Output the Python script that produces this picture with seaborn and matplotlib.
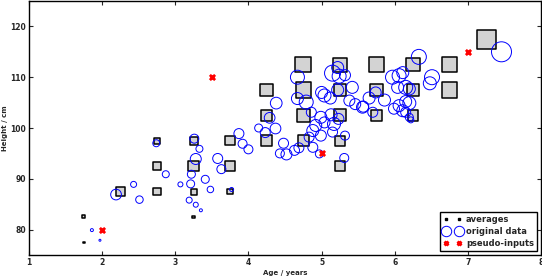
import numpy as np
import pandas as pd
import seaborn as sns
import matplotlib
matplotlib.use("Agg")
import matplotlib.pyplot as plt
from matplotlib.lines import Line2D

# bin averages (age, height, marker weight)
avg_age = [1.75, 1.75, 2.25, 2.75, 2.75, 2.75, 3.25, 3.25, 3.25, 3.25,
           3.75, 3.75, 3.75, 4.25, 4.25, 4.25, 4.75, 4.75, 4.75, 4.75,
           5.25, 5.25, 5.25, 5.25, 5.25, 5.75, 5.75, 5.75, 6.25, 6.25,
           6.25, 6.75, 6.75, 7.25]
avg_height = [82.5, 77.5, 87.5, 97.5, 92.5, 87.5, 97.5, 92.5, 87.5, 82.5,
              97.5, 92.5, 87.5, 107.5, 102.5, 97.5, 112.5, 107.5, 102.5, 97.5,
              112.5, 107.5, 102.5, 97.5, 92.5, 112.5, 107.5, 102.5, 112.5, 107.5,
              102.5, 112.5, 107.5, 117.5]
avg_weight = [3, 1.5, 8.5, 6, 7.3, 7.3, 8, 10.5, 6, 2.5,
              9.3, 10, 5.3, 12.7, 10.5, 10.7, 15.7, 15.3, 13.3, 11.3,
              14, 12.3, 12, 10.3, 10, 14.3, 12.7, 11.3, 13.3, 12.3,
              10.7, 15.3, 15.3, 19]

# original data (age, height, marker weight)
data_age = [1.86, 1.97, 2.19, 2.43, 2.51, 2.74, 2.87, 3.07, 3.21, 3.19,
            3.28, 3.35, 3.41, 3.48, 3.22, 3.28, 3.33, 3.26, 3.58, 3.63,
            3.77, 3.87, 3.92, 4.00, 4.14, 4.23, 4.37, 4.29, 4.38, 4.48,
            4.43, 4.52, 4.67, 4.67, 4.79, 5.00, 5.04, 5.12, 5.22, 5.22,
            5.15, 5.24, 5.32, 5.42, 5.38, 5.46, 5.56, 4.86, 4.99, 5.13,
            5.23, 4.92, 4.88, 5.04, 5.17, 4.83, 4.99, 5.15, 5.32, 4.63,
            4.69, 4.88, 4.97, 5.31, 5.70, 6.33, 5.97, 6.06, 6.11, 6.15,
            6.20, 6.04, 6.51, 6.48, 5.65, 5.74, 5.86, 5.57, 6.06, 6.15,
            6.20, 6.11, 6.15, 6.20, 6.22, 7.46, 5.99]
data_height = [79.9, 77.9, 86.9, 88.9, 85.9, 97.0, 90.9, 88.9, 89.0, 85.8,
               84.9, 83.8, 89.9, 87.9, 90.9, 93.9, 95.9, 97.9, 94.0, 91.9,
               87.9, 98.9, 96.9, 95.8, 100.0, 99.1, 99.9, 102.0, 104.9, 97.0,
               95.0, 94.8, 110.0, 105.8, 105.1, 107.0, 106.4, 105.9, 107.5, 111.9,
               110.8, 110.2, 110.4, 108.0, 105.4, 104.7, 104.1, 103.1, 102.1, 102.6,
               101.8, 100.5, 99.5, 101.1, 100.8, 98.2, 98.5, 99.2, 98.5, 95.6,
               96.1, 96.2, 94.9, 94.1, 103.1, 114.0, 110.0, 110.3, 110.9, 108.0,
               107.7, 108.0, 110.0, 108.8, 105.9, 107.0, 105.5, 104.2, 104.4, 105.2,
               104.9, 103.4, 103.1, 102.1, 101.6, 115.0, 103.8]
data_weight = [3, 2, 10.7, 6, 7.5, 7, 7, 5, 8, 6,
               5, 3, 8, 6.5, 8, 11, 7, 9, 10, 9,
               4, 10, 9, 9, 8, 10, 10.7, 10.7, 11.7, 10,
               9, 11, 14, 12, 14, 12, 13, 12, 12, 12,
               16, 14, 11, 12, 11, 11, 12, 10, 12, 12,
               11, 12, 12, 11, 13, 10, 11, 10, 9, 10,
               10, 10, 8, 9, 10, 15, 14, 14, 12, 14,
               12, 12, 15, 13, 12, 11, 12, 11, 12, 12,
               13, 12, 10, 8, 6, 20, 11]

# pseudo-inputs
pseudo_age = [2.0, 3.5, 5.0, 7.0]
pseudo_height = [80.0, 110.0, 95.0, 115.0]

avg_df = pd.DataFrame({"age": avg_age, "height": avg_height})
data_df = pd.DataFrame({"age": data_age, "height": data_height})
pseudo_df = pd.DataFrame({"age": pseudo_age, "height": pseudo_height})

sns.set_style("ticks")
plt.rcParams["font.family"] = ["DejaVu Sans"]
plt.rcParams["font.weight"] = "bold"
plt.rcParams["axes.labelweight"] = "bold"

fig = plt.figure(figsize=(5.42, 2.78), dpi=100)
ax = fig.add_axes([29 / 542, 23 / 278, 512 / 542, 254 / 278])

px = 0.72  # points per pixel at 100 dpi
sns.scatterplot(data=avg_df, x="age", y="height", ax=ax, marker="s",
                s=(np.array(avg_weight) * px) ** 2, color="#d3d3d3",
                edgecolor="black", linewidth=1.1, zorder=2, legend=False)
sns.scatterplot(data=data_df, x="age", y="height", ax=ax, marker="o",
                s=(np.array(data_weight) * px) ** 2, facecolor="none",
                edgecolor="blue", linewidth=0.7, zorder=3, legend=False)
sns.scatterplot(data=pseudo_df, x="age", y="height", ax=ax, marker="x",
                s=14, color="red", linewidth=2.0, zorder=4, legend=False)

ax.set_xlim(1, 8)
ax.set_ylim(75, 125)
ax.set_xticks(range(1, 9))
ax.set_yticks([80, 90, 100, 110, 120])
ax.tick_params(direction="in", top=True, right=True, length=3, width=0.8,
               labelsize=5.5)
ax.tick_params(axis="x", pad=2.5)
ax.tick_params(axis="y", pad=2.0)
for lab in ax.get_xticklabels() + ax.get_yticklabels():
    lab.set_fontweight("bold")
for sp in ax.spines.values():
    sp.set_linewidth(1.0)
    sp.set_color("black")

ax.set_xlabel("Age / years", fontsize=5, fontweight="bold", labelpad=1.5)
ax.set_ylabel("Height / cm", fontsize=5, fontweight="bold", labelpad=2.0)

handles = [
    Line2D([], [], marker="s", ls="", color="black", markersize=1.5),
    Line2D([], [], marker="o", ls="", markerfacecolor="none",
           markeredgecolor="blue", markersize=7.5, markeredgewidth=0.7),
    Line2D([], [], marker="x", ls="", color="red", markersize=3.5,
           markeredgewidth=2.0),
]
leg = ax.legend(handles, ["averages", "original data", "pseudo-inputs"],
                loc="lower right", numpoints=2, fancybox=False,
                framealpha=1, edgecolor="black", borderaxespad=0.45,
                handlelength=2.2, handletextpad=0.5, labelspacing=0.35,
                borderpad=0.4, prop={"size": 6, "weight": "bold"})
leg.get_frame().set_linewidth(1.0)

fig.savefig("out.png", dpi=100)
